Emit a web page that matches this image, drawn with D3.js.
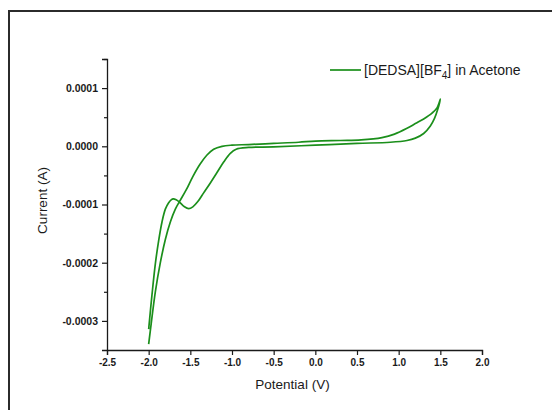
<!DOCTYPE html>
<html>
<head>
<meta charset="utf-8">
<script src="https://cdn.jsdelivr.net/npm/d3@7"></script>
<style>
  html, body { margin: 0; padding: 0; background: #ffffff; }
  svg { display: block; }
  text { font-family: Arial, "Liberation Sans", sans-serif; fill: #1a1a1a; }
</style>
</head>
<body>
<svg id="chart" width="552" height="410"></svg>
<script>
// Cyclic voltammogram of [DEDSA][BF4] in acetone
// Forward branch: from -2.0 V up to +1.5 V (current in A)
const forwardPotential = [-2.00, -1.97, -1.92, -1.86, -1.80, -1.74, -1.68, -1.63, -1.55, -1.47, -1.38, -1.30, -1.22, -1.12, -1.00, -0.80, -0.50, -0.20, 0.00, 0.30, 0.55, 0.80, 0.95, 1.10, 1.20, 1.30, 1.40, 1.46, 1.50];
const forwardCurrent = [-3.40e-4, -3.05e-4, -2.50e-4, -2.00e-4, -1.60e-4, -1.30e-4, -1.08e-4, -0.95e-4, -0.75e-4, -0.52e-4, -0.30e-4, -0.15e-4, -0.05e-4, 0.00e-4, 0.02e-4, 0.03e-4, 0.05e-4, 0.07e-4, 0.09e-4, 0.10e-4, 0.11e-4, 0.15e-4, 0.21e-4, 0.31e-4, 0.39e-4, 0.47e-4, 0.57e-4, 0.66e-4, 0.81e-4];

// Reverse branch: from +1.5 V back to -2.0 V
const reversePotential = [1.47, 1.43, 1.38, 1.30, 1.20, 1.10, 0.90, 0.50, 0.00, -0.50, -0.80, -0.95, -1.02, -1.10, -1.18, -1.26, -1.34, -1.41, -1.47, -1.52, -1.57, -1.63, -1.67, -1.705, -1.73, -1.76, -1.80, -1.84, -1.88, -1.92, -1.96, -2.00];
const reverseCurrent = [0.64e-4, 0.48e-4, 0.35e-4, 0.22e-4, 0.14e-4, 0.10e-4, 0.07e-4, 0.05e-4, 0.02e-4, -0.01e-4, -0.02e-4, -0.05e-4, -0.12e-4, -0.27e-4, -0.45e-4, -0.63e-4, -0.80e-4, -0.95e-4, -1.04e-4, -1.07e-4, -1.04e-4, -0.96e-4, -0.92e-4, -0.905e-4, -0.92e-4, -0.97e-4, -1.08e-4, -1.30e-4, -1.62e-4, -2.02e-4, -2.55e-4, -3.14e-4];

const xTicks = [-2.5, -2.0, -1.5, -1.0, -0.5, 0.0, 0.5, 1.0, 1.5, 2.0];
const yTicks = [0.0001, 0.0000, -0.0001, -0.0002, -0.0003];
const yMinorTicks = [0.00015, 0.00005, -0.00005, -0.00015, -0.00025];

const seriesName = "[DEDSA][BF";
const seriesSub = "4";
const seriesTail = "] in Acetone";
const xTitle = "Potential (V)";
const yTitle = "Current (A)";

const lineColor = "#1b8f1b";
const axisColor = "#1a1a1a";

const svg = d3.select("#chart");

// outer frame
svg.append("rect")
  .attr("x", 9).attr("y", 11)
  .attr("width", 600).attr("height", 500)
  .attr("fill", "#ffffff")
  .attr("stroke", "#2b2b2b")
  .attr("stroke-width", 2);

const plot = { left: 107, right: 482, top: 59, bottom: 350 };

const x = d3.scaleLinear().domain([-2.5, 2.0]).range([plot.left, plot.right]);
const y = d3.scaleLinear().domain([-0.00035, 0.00015]).range([plot.bottom, plot.top]);

const locale = d3.formatLocale({ decimal: ".", thousands: ",", grouping: [3], currency: ["", ""], minus: "-" });
const fx = locale.format(".1f");
const fy = locale.format(".4f");

// x axis
const xAxis = svg.append("g")
  .attr("transform", `translate(0,${plot.bottom})`)
  .call(d3.axisBottom(x).tickValues(xTicks).tickFormat(fx).tickSize(5).tickPadding(4));
xAxis.select(".domain").attr("stroke", axisColor).attr("stroke-width", 1.3);
xAxis.selectAll(".tick line").attr("stroke", axisColor).attr("stroke-width", 1.2);
xAxis.selectAll(".tick text")
  .attr("font-family", "Arial, 'Liberation Sans', sans-serif")
  .attr("font-size", 10).attr("font-weight", "bold").attr("fill", "#1a1a1a");

// y axis
const yAxis = svg.append("g")
  .attr("transform", `translate(${plot.left},0)`)
  .call(d3.axisLeft(y).tickValues(yTicks).tickFormat(fy).tickSize(5).tickPadding(4));
yAxis.select(".domain").attr("stroke", axisColor).attr("stroke-width", 1.3);
yAxis.selectAll(".tick line").attr("stroke", axisColor).attr("stroke-width", 1.2);
yAxis.selectAll(".tick text")
  .attr("font-family", "Arial, 'Liberation Sans', sans-serif")
  .attr("font-size", 10.5).attr("font-weight", "bold").attr("fill", "#1a1a1a");

// y minor ticks
const yMinor = svg.append("g")
  .attr("transform", `translate(${plot.left},0)`)
  .call(d3.axisLeft(y).tickValues(yMinorTicks).tickFormat("").tickSize(3));
yMinor.select(".domain").remove();
yMinor.selectAll(".tick line").attr("stroke", axisColor).attr("stroke-width", 1.2);

// axis titles
svg.append("text")
  .attr("x", (plot.left + plot.right) / 2 - 2)
  .attr("y", 389)
  .attr("text-anchor", "middle")
  .attr("font-size", 13.5)
  .text(xTitle);

svg.append("text")
  .attr("transform", `translate(47,${(plot.top + plot.bottom) / 2 - 4}) rotate(-90)`)
  .attr("text-anchor", "middle")
  .attr("font-size", 13.5)
  .text(yTitle);

// voltammogram trace
const pts = forwardPotential.map((v, i) => [v, forwardCurrent[i]])
  .concat(reversePotential.map((v, i) => [v, reverseCurrent[i]]));

const line = d3.line()
  .x(d => x(d[0]))
  .y(d => y(d[1]))
  .curve(d3.curveCatmullRom.alpha(0.5));

svg.append("path")
  .datum(pts)
  .attr("fill", "none")
  .attr("stroke", lineColor)
  .attr("stroke-width", 1.7)
  .attr("stroke-linejoin", "round")
  .attr("d", line);

// legend
const lg = svg.append("g").attr("transform", "translate(330,70)");
lg.append("line")
  .attr("x1", 0).attr("x2", 31).attr("y1", 0).attr("y2", 0)
  .attr("stroke", lineColor).attr("stroke-width", 1.7);
const lt = lg.append("text")
  .attr("x", 34).attr("y", 5)
  .attr("font-size", 14);
lt.append("tspan").text(seriesName);
lt.append("tspan").attr("font-size", 10).attr("dy", 4).text(seriesSub);
lt.append("tspan").attr("dy", -4).text(seriesTail);
</script>
</body>
</html>
